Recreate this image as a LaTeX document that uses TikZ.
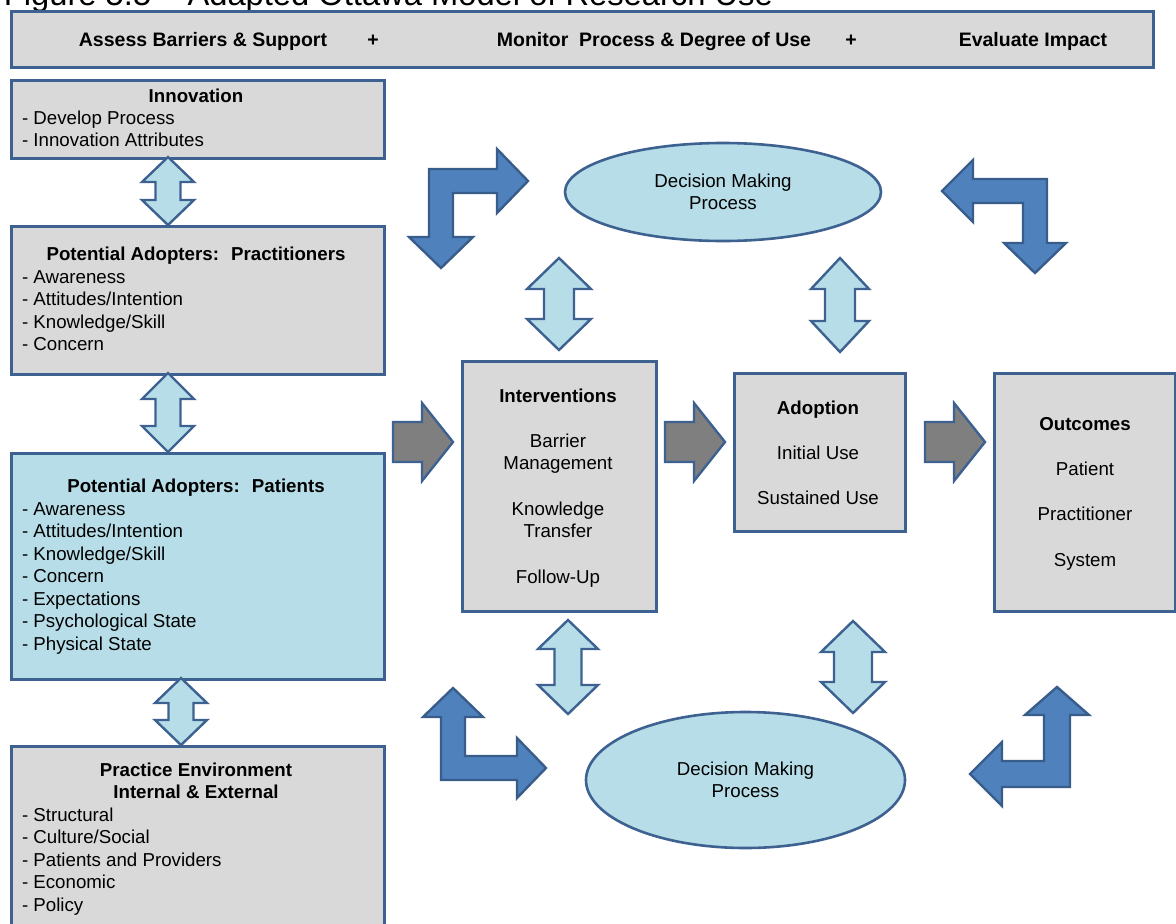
\documentclass[tikz,border=0pt]{standalone}
\usepackage{fontspec}
\setmainfont{Liberation Sans}
\usetikzlibrary{shapes.geometric}
\definecolor{boxgray}{HTML}{D9D9D9}
\definecolor{bordc}{HTML}{3D6190}
\definecolor{lblue}{HTML}{B7DEE8}
\definecolor{barrow}{HTML}{4F81BD}
\definecolor{barrowb}{HTML}{385D8A}
\definecolor{garrow}{HTML}{7F7F7F}
\newcommand{\fsz}{\fontsize{18.7}{22.6}\selectfont}
\newcommand{\vdbl}[6]{% cx, ytop, ybot, headhalf, shafthalf, headlen
  \draw[dblarr] (#1,#2) -- (#1+#4,#2+#6) -- (#1+#5,#2+#6) -- (#1+#5,#3-#6) -- (#1+#4,#3-#6) -- (#1,#3)
   -- (#1-#4,#3-#6) -- (#1-#5,#3-#6) -- (#1-#5,#2+#6) -- (#1-#4,#2+#6) -- cycle;}
\newcommand{\rgarr}[1]{% x0
  \draw[grayarr] (#1,422) -- (#1+29,422) -- (#1+29,403) -- (#1+60,442) -- (#1+29,481) -- (#1+29,462) -- (#1,462) -- cycle;}
\begin{document}
\begin{tikzpicture}[x=1pt,y=-1pt,
  box/.style={draw=bordc, line width=2.6pt, fill=boxgray, inner sep=0pt},
  bluebox/.style={box, fill=lblue},
  ell/.style={ellipse, draw=bordc, line width=2.6pt, fill=lblue, align=center, font=\fsz, inner sep=0pt},
  txt/.style={inner sep=0pt, outer sep=0pt, font=\fsz, anchor=base},
  ttl/.style={txt, font=\fsz\bfseries},
  itm/.style={txt, anchor=base west},
  dblarr/.style={draw=bordc, line width=2.4pt, fill=lblue, line join=miter},
  bentarr/.style={draw=barrowb, line width=2.4pt, fill=barrow, line join=miter},
  grayarr/.style={draw=bordc, line width=2.4pt, fill=garrow, line join=miter}]
\useasboundingbox (0,0) rectangle (1176,924);
\clip (0,0) rectangle (1176,924);

% title (cut off at the top edge, as in the reference)
\node[txt, anchor=base west, font=\fontsize{32.7}{38}\selectfont] (title) at (4,5) {Figure 5.5 -- Adapted Ottawa Model of Research Use};

% banner
\node[box, anchor=north west, minimum width=1142pt, minimum height=56pt] (banner) at (10,10) {};
\node[ttl, font=\fontsize{19.5}{22}\selectfont\bfseries] (b1) at (203,46) {Assess Barriers \& Support};
\node[ttl, font=\fontsize{19.5}{22}\selectfont\bfseries] (b2) at (373,46) {+};
\node[ttl, font=\fontsize{19.5}{22}\selectfont\bfseries] (b3) at (654,46) {Monitor~ Process \& Degree of Use};
\node[ttl, font=\fontsize{19.5}{22}\selectfont\bfseries] (b4) at (851,46) {+};
\node[ttl, font=\fontsize{19.5}{22}\selectfont\bfseries] (b5) at (1033,46) {Evaluate Impact};

% left column boxes
\node[box, anchor=north west, minimum width=373pt, minimum height=78pt] (innov) at (10,79) {};
\node[ttl] (innovt) at (196,102) {Innovation};
\foreach \t [count=\i] in {Develop Process, Innovation Attributes}
  \node[itm] (innov\i) at (22,124+22.8*\i-22.8) {- \t};

\node[box, anchor=north west, minimum width=373pt, minimum height=148pt] (pract) at (10,225) {};
\node[ttl] (practt) at (196,260) {Potential Adopters:~ Practitioners};
\foreach \t [count=\i] in {Awareness, Attitudes/Intention, Knowledge/Skill, Concern}
  \node[itm] (pract\i) at (22,283+22.6*\i-22.6) {- \t};

\node[bluebox, anchor=north west, minimum width=373pt, minimum height=226pt] (pat) at (10,452) {};
\node[ttl] (patt) at (196,492) {Potential Adopters:~ Patients};
\foreach \t [count=\i] in {Awareness, Attitudes/Intention, Knowledge/Skill, Concern, Expectations, Psychological State, Physical State}
  \node[itm] (pat\i) at (22,515+22.5*\i-22.5) {- \t};

\node[box, anchor=north west, minimum width=373pt, minimum height=210pt] (env) at (10,745) {};
\node[ttl] (envt1) at (196,776) {Practice Environment};
\node[ttl] (envt2) at (196,798) {Internal \& External};
\foreach \t [count=\i] in {Structural, Culture/Social, Patients and Providers, Economic, Policy}
  \node[itm] (env\i) at (22,821+22.5*\i-22.5) {- \t};

% centre boxes
\node[box, anchor=north west, minimum width=194pt, minimum height=250pt] (interv) at (461,360) {};
\node[ttl] (intervt) at (558,402) {Interventions};
\node[txt] (iv1) at (558,447) {Barrier};
\node[txt] (iv2) at (558,469) {Management};
\node[txt] (iv3) at (558,515) {Knowledge};
\node[txt] (iv4) at (558,537) {Transfer};
\node[txt] (iv5) at (558,583) {Follow-Up};

\node[box, anchor=north west, minimum width=171pt, minimum height=158pt] (adopt) at (733,372) {};
\node[ttl] (adoptt) at (818,414) {Adoption};
\node[txt] (ad1) at (818,459) {Initial Use};
\node[txt] (ad2) at (818,504) {Sustained Use};

\node[box, anchor=north west, minimum width=181pt, minimum height=238pt] (outc) at (993,372) {};
\node[ttl] (outct) at (1085,430) {Outcomes};
\node[txt] (oc1) at (1085,475) {Patient};
\node[txt] (oc2) at (1085,520) {Practitioner};
\node[txt] (oc3) at (1085,566) {System};

% ellipses
\node[ell, minimum width=316pt, minimum height=98pt] (dmtop) at (723,192) {Decision Making\\Process};
\node[ell, minimum width=319pt, minimum height=136pt] (dmbot) at (745.5,780) {Decision Making\\Process};

% vertical double arrows
\vdbl{168}{157}{225}{26}{12.5}{25}
\vdbl{168}{373}{452}{26}{12.5}{26}
\vdbl{181}{678}{745}{26}{12.5}{25}
\vdbl{559}{258}{350}{32}{15}{31}
\vdbl{840}{258}{352}{29}{15}{31}
\vdbl{568}{620}{714}{30}{13.5}{29}
\vdbl{853}{621}{713}{32}{19}{31}

% gray right arrows
\rgarr{393}
\rgarr{665}
\rgarr{925}

% bent arrows
\draw[bentarr] (429,169) -- (497,169) -- (497,149) -- (528,181) -- (497,213) -- (497,193) -- (453,193)
  -- (453,237) -- (473,237) -- (441,268) -- (409,237) -- (429,237) -- cycle;
\draw[bentarr] (942,191) -- (973,160) -- (973,179) -- (1047,179) -- (1047,243) -- (1066,243) -- (1035,273)
  -- (1004,243) -- (1023,243) -- (1023,203) -- (973,203) -- (973,222) -- cycle;
\draw[bentarr] (453,688) -- (483,717) -- (465,717) -- (465,756) -- (517,756) -- (517,738) -- (546,768)
  -- (517,798) -- (517,780) -- (441,780) -- (441,717) -- (423,717) -- cycle;
\draw[bentarr] (1057,687) -- (1089,715) -- (1070,715) -- (1070,787) -- (1002,787) -- (1002,806) -- (970,774)
  -- (1002,742) -- (1002,761) -- (1044,761) -- (1044,715) -- (1025,715) -- cycle;
\end{tikzpicture}
\end{document}
